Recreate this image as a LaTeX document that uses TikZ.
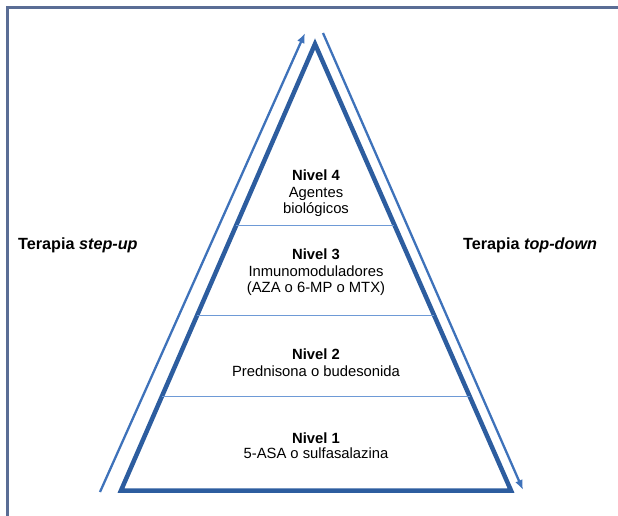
\documentclass[tikz,border=0pt]{standalone}
\usepackage{fontspec}
\setmainfont{Liberation Sans}
\usetikzlibrary{arrows.meta,calc}
\definecolor{framec}{HTML}{5A6D95}
\definecolor{pyrc}{HTML}{2D5D9F}
\definecolor{arrc}{HTML}{3E72BA}
\definecolor{sepc}{HTML}{6E9AD6}
\begin{document}
\begin{tikzpicture}[x=1pt,y=-1pt,
  lvl/.style={anchor=base,inner sep=0pt,font=\fontsize{14.8}{17}\selectfont},
  lvlb/.style={lvl,font=\fontsize{14.8}{17}\selectfont\bfseries},
  side/.style={anchor=base west,inner sep=0pt,font=\fontsize{16.2}{19}\selectfont\bfseries},
  pyr/.style={draw=pyrc,line width=4.5pt,line join=miter},
  sep/.style={draw=sepc,line width=1pt},
  flow/.style={draw=arrc,line width=2.3pt,-{Latex[length=10pt,width=8pt]}}]
\useasboundingbox (0,0) rectangle (618,516);
% frame
\draw[framec,line width=2.7pt] (7.3,516) -- (7.3,7.3) -- (618,7.3);
% pyramid
\coordinate (BL) at (121,490.5);
\coordinate (BR) at (511,490.5);
\coordinate (T) at (315,44);
\draw[pyr] (BL) -- (T) -- (BR) -- cycle;
% level separators
\coordinate (s1l) at ($(BL)!0.5946!(T)$);
\coordinate (s1r) at ($(BR)!0.5946!(T)$);
\coordinate (s2l) at ($(BL)!0.393!(T)$);
\coordinate (s2r) at ($(BR)!0.393!(T)$);
\coordinate (s3l) at ($(BL)!0.2116!(T)$);
\coordinate (s3r) at ($(BR)!0.2116!(T)$);
\draw[sep] (s1l) -- (s1r);
\draw[sep] (s2l) -- (s2r);
\draw[sep] (s3l) -- (s3r);
% side arrows
\coordinate (upS) at (100,492);
\coordinate (upE) at (305,33);
\coordinate (dnS) at (323,33);
\coordinate (dnE) at (523,490);
\draw[flow] (upS) -- (upE);
\draw[flow] (dnS) -- (dnE);
% level texts
\node[lvlb] (n4) at (316,180.6) {Nivel 4};
\node[lvl] (n4a) at (316,197.4) {Agentes};
\node[lvl] (n4b) at (316,213.8) {biológicos};
\node[lvlb] (n3) at (316,259.6) {Nivel 3};
\node[lvl] (n3a) at (316,276.4) {Inmunomoduladores};
\node[lvl] (n3b) at (316,292.8) {(AZA o 6-MP o MTX)};
\node[lvlb] (n2) at (316,359.6) {Nivel 2};
\node[lvl] (n2a) at (316,376.6) {Prednisona o budesonida};
\node[lvlb] (n1) at (316,443.6) {Nivel 1};
\node[lvl] (n1a) at (316,458.4) {5-ASA o sulfasalazina};
% side labels
\node[side] (su) at (18,249.8) {Terapia \textit{step-up}};
\node[side] (td) at (463,249.8) {Terapia \textit{top-down}};
\end{tikzpicture}
\end{document}
